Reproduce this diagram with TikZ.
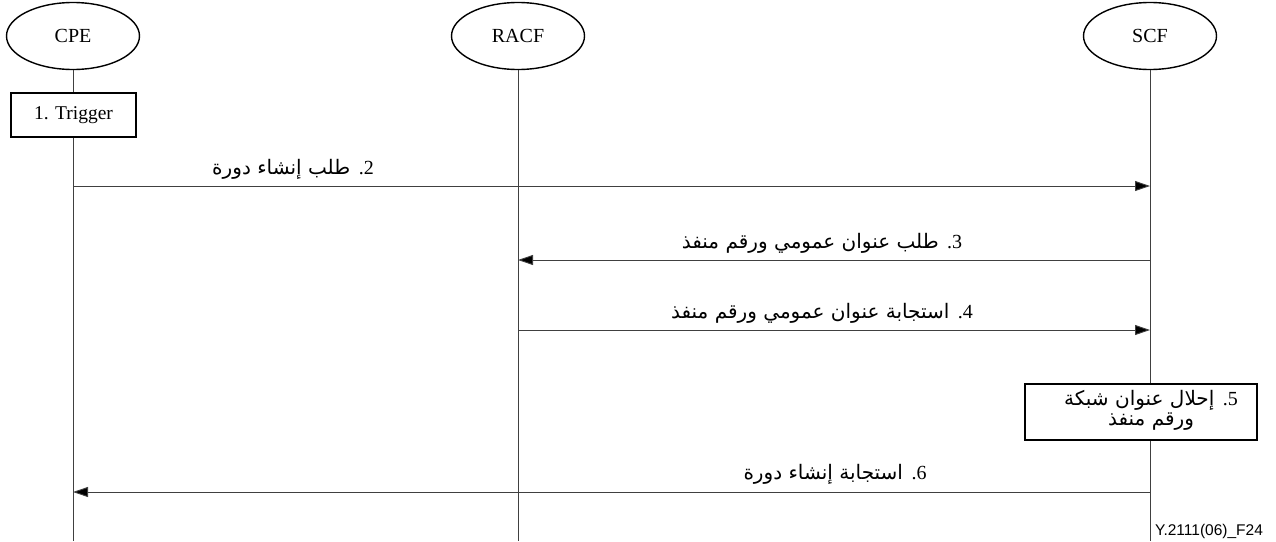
\documentclass[tikz,border=0pt]{standalone}
\usepackage{fontspec}
\setmainfont{Liberation Serif}
\newfontfamily\arabicfont[Script=Arabic]{DejaVu Sans}
\newfontfamily\figfont{Liberation Sans}
\TeXXeTstate=1
\usetikzlibrary{shapes.geometric,arrows.meta}
% step number set in the serif face, placed right-to-left (dot left of the digit)
\newcommand{\stepno}[1]{{\rmfamily #1\kern0pt.}}
\begin{document}
\begin{tikzpicture}[x=1pt,y=-1pt,
  entity/.style={draw, line width=1.4pt, ellipse, minimum width=133pt, minimum height=67pt, inner sep=0pt, font=\fontsize{20}{22}\selectfont},
  lifeline/.style={draw=black!75, line width=0.9pt},
  msg/.style={draw=black!75, line width=0.9pt, -{Triangle[length=15pt,width=10pt,fill=black]}},
  actbox/.style={draw, line width=1.3pt, fill=white, inner sep=0pt},
  arlabel/.style={font=\arabicfont\fontsize{20}{22}\selectfont, inner sep=0pt, anchor=base}
]
\useasboundingbox (0,0) rectangle (1276,541);

% participants
\node[entity] (cpe)  at (73,36)   {CPE};
\node[entity] (racf) at (518,36)  {RACF};
\node[entity] (scf)  at (1150,36) {SCF};

% lifeline ends
\coordinate (cpeEnd)  at (73,541);
\coordinate (racfEnd) at (518,541);
\coordinate (scfEnd)  at (1150,541);

\draw[lifeline] (cpe.south) -- (cpeEnd);
\draw[lifeline] (racf.south) -- (racfEnd);
\draw[lifeline] (scf.south) -- (scfEnd);

% step 1
\node[actbox, minimum width=125pt, minimum height=44pt, font=\fontsize{19.5}{22}\selectfont] (trig) at (73.5,115) {1. Trigger};

% message anchor points on the lifelines
\coordinate (c2) at (73,186);   \coordinate (s2) at (1150,186);
\coordinate (s3) at (1150,260); \coordinate (r3) at (518,260);
\coordinate (r4) at (518,330);  \coordinate (s4) at (1150,330);
\coordinate (s6) at (1150,492); \coordinate (c6) at (73,492);

\draw[msg] (c2) -- (s2);
\draw[msg] (s3) -- (r3);
\draw[msg] (r4) -- (s4);
\draw[msg] (s6) -- (c6);

\node[arlabel] (l2) at (293,174) {\beginR\stepno{2} طلب إنشاء دورة\endR};
\node[arlabel] (l3) at (822,248) {\beginR\stepno{3} طلب عنوان عمومي ورقم منفذ\endR};
\node[arlabel] (l4) at (822,318) {\beginR\stepno{4} استجابة عنوان عمومي ورقم منفذ\endR};
\node[arlabel] (l6) at (835,479) {\beginR\stepno{6} استجابة إنشاء دورة\endR};

% step 5
\node[actbox, minimum width=232pt, minimum height=56pt] (nat) at (1141,412) {};
\node[align=center, inner sep=0pt, font=\arabicfont\fontsize{20}{20}\selectfont] (natText) at (1151,410)
  {\beginR\stepno{5} إحلال عنوان شبكة\endR\\\beginR ورقم منفذ\endR};

\node[font=\figfont\fontsize{15.5}{17}\selectfont, anchor=base west, inner sep=0pt] (fig) at (1155,535) {Y.2111(06)\_F24};
\end{tikzpicture}
\end{document}
